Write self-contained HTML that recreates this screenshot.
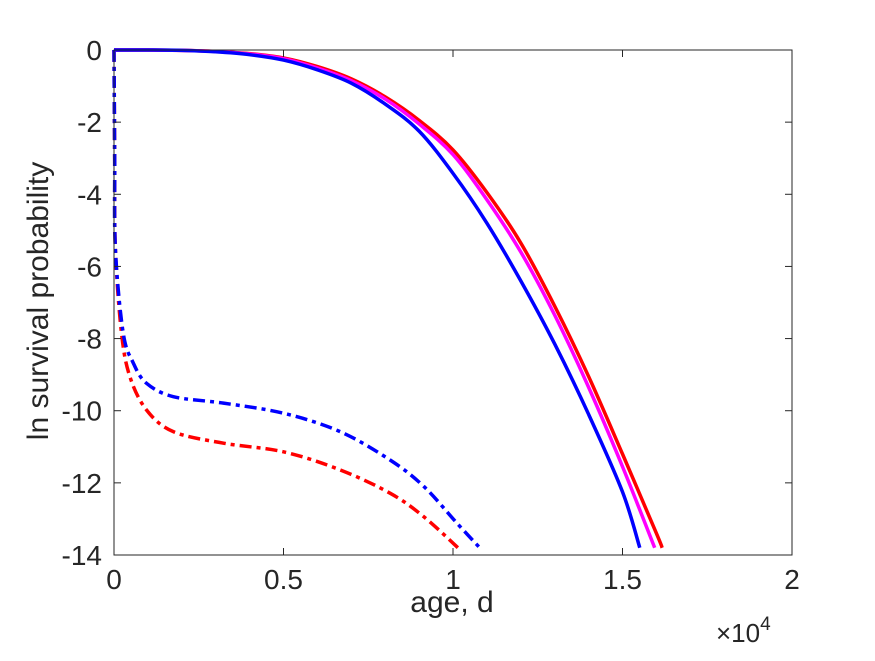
<!DOCTYPE html>
<html><head><meta charset="utf-8">
<style>
body{margin:0;background:#fff;}
svg text{font-family:"Liberation Sans",sans-serif;fill:#262626;}
</style></head>
<body>
<svg id="chart" width="875" height="656" viewBox="0 0 875 656" xmlns="http://www.w3.org/2000/svg">
<rect x="0" y="0" width="875" height="656" fill="#fff"/>
<g id="plot"></g>
<g id="axes"></g>
</svg>
<script>
const xTicks=[0,0.5,1,1.5,2];
const xTickLabels=["0","0.5","1","1.5","2"];
const yTicks=[0,-2,-4,-6,-8,-10,-12,-14];
const yTickLabels=["0","-2","-4","-6","-8","-10","-12","-14"];
const blueSolidX=[0,0.1,0.2,0.3,0.4,0.5,0.6,0.7,0.8,0.9,1.0,1.1,1.2,1.3,1.4,1.5,1.551];
const blueSolidY=[0,0,-0.01,-0.05,-0.13,-0.28,-0.55,-0.92,-1.5,-2.25,-3.42,-4.8,-6.4,-8.15,-10.1,-12.25,-13.8];
const magentaSolidX=[0,0.1,0.2,0.3,0.4,0.5,0.6,0.7,0.8,0.9,1.0,1.1,1.2,1.3,1.4,1.5,1.595];
const magentaSolidY=[0,0,-0.01,-0.04,-0.11,-0.24,-0.5,-0.85,-1.36,-2.05,-2.9,-4.15,-5.6,-7.35,-9.35,-11.55,-13.8];
const redSolidX=[0,0.1,0.2,0.3,0.4,0.5,0.6,0.7,0.8,0.9,1.0,1.1,1.2,1.3,1.4,1.5,1.6,1.617];
const redSolidY=[0,0,-0.01,-0.04,-0.1,-0.22,-0.46,-0.8,-1.3,-1.95,-2.77,-3.95,-5.35,-7.1,-9.05,-11.2,-13.4,-13.8];
const blueDashX=[0,0.002,0.004,0.027,0.057,0.096,0.175,0.323,0.5,0.667,0.815,0.914,1.012,1.081];
const blueDashY=[0,-3,-5.5,-7.84,-8.68,-9.24,-9.61,-9.79,-10.07,-10.58,-11.37,-12.1,-13.12,-13.82];
const redDashX=[0,0.002,0.004,0.022,0.047,0.096,0.175,0.323,0.5,0.667,0.815,0.914,1.017];
const redDashY=[0,-3,-5.5,-7.84,-9.06,-9.98,-10.58,-10.9,-11.14,-11.64,-12.29,-12.94,-13.82];

const L=114,R=792,T=50,B=555;
const sx=v=>L+(v-0)/(2-0)*(R-L);
const sy=v=>T+(0-v)/(0-(-14))*(B-T);
const NS="http://www.w3.org/2000/svg";
const plot=document.getElementById('plot'),axes=document.getElementById('axes');
function mk(tag,attrs,parent){const e=document.createElementNS(NS,tag);for(const k in attrs)e.setAttribute(k,attrs[k]);parent.appendChild(e);return e;}
function pathD(xs,ys){
  const p=xs.map((x,i)=>[sx(x),sy(ys[i])]);
  let d="M"+p[0][0].toFixed(2)+","+p[0][1].toFixed(2);
  for(let i=0;i<p.length-1;i++){
    const p0=p[Math.max(0,i-1)],p1=p[i],p2=p[i+1],p3=p[Math.min(p.length-1,i+2)];
    const c1=[p1[0]+(p2[0]-p0[0])/6,p1[1]+(p2[1]-p0[1])/6];
    const c2=[p2[0]-(p3[0]-p1[0])/6,p2[1]-(p3[1]-p1[1])/6];
    d+=" C"+c1.map(v=>v.toFixed(2)).join(",")+" "+c2.map(v=>v.toFixed(2)).join(",")+" "+p2.map(v=>v.toFixed(2)).join(",");
  }
  return d;
}
function series(xs,ys,color,dash,name){
  const e=mk('path',{d:pathD(xs,ys),fill:'none',stroke:color,'stroke-width':3.5,'stroke-dasharray':dash||'none','stroke-linejoin':'round'},plot);
  
  
}
series(redDashX,redDashY,'#ff0000','12,5,4,5','red-dashdot-line');
series(blueDashX,blueDashY,'#0000ff','12,5,4,5','blue-dashdot-line');
series(redSolidX,redSolidY,'#ff0000',null,'red-solid-line');
series(magentaSolidX,magentaSolidY,'#ff00ff',null,'magenta-solid-line');
series(blueSolidX,blueSolidY,'#0000ff',null,'blue-solid-line');

const box=mk('rect',{x:L,y:T,width:R-L,height:B-T,fill:'none',stroke:'#262626','stroke-width':1},axes);


xTicks.forEach((v,i)=>{
  const x=sx(v);
  const t1=mk('line',{x1:x,y1:B,x2:x,y2:B-7,stroke:'#262626'},axes);
  
  
  const t2=mk('line',{x1:x,y1:T,x2:x,y2:T+7,stroke:'#262626'},axes);
  
  
  const tx=mk('text',{x:x,y:B+34,'text-anchor':'middle','font-size':28},axes);
  tx.textContent=xTickLabels[i];
  
  
});
yTicks.forEach((v,i)=>{
  const y=sy(v);
  const t1=mk('line',{x1:L,y1:y,x2:L+7,y2:y,stroke:'#262626'},axes);
  
  
  const t2=mk('line',{x1:R,y1:y,x2:R-7,y2:y,stroke:'#262626'},axes);
  
  
  const tx=mk('text',{x:L-12,y:y+10,'text-anchor':'end','font-size':28},axes);
  tx.textContent=yTickLabels[i];
  
  
});
const xl=mk('text',{x:452,y:612,'text-anchor':'middle','font-size':30},axes);
xl.textContent='age, d';


const ex=mk('text',{x:716,y:642,'font-size':26},axes);
ex.innerHTML='×10<tspan dy="-12" font-size="19">4</tspan>';


const yl=mk('text',{x:0,y:0,'text-anchor':'middle','font-size':30,transform:'translate(48,301) rotate(-90)'},axes);
yl.textContent='ln survival probability';


</script>
</body></html>
